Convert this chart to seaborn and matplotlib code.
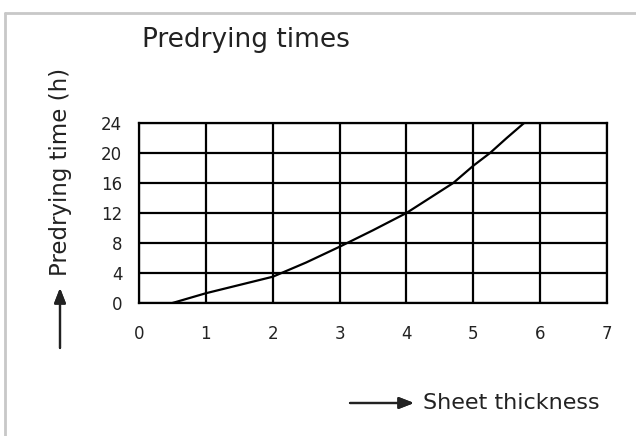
import matplotlib
matplotlib.use("Agg")
import matplotlib.pyplot as plt
from matplotlib.lines import Line2D
import seaborn as sns

# values
thickness = [0.5, 1.0, 1.5, 2.0, 2.5, 3.0, 3.5, 4.0, 4.35, 4.7, 5.0, 5.25, 5.5, 5.76]
hours = [0.0, 1.3, 2.4, 3.5, 5.4, 7.5, 9.7, 12.0, 14.0, 16.0, 18.3, 20.0, 22.0, 24.0]
x_ticks = [0, 1, 2, 3, 4, 5, 6, 7]
y_ticks = [0, 4, 8, 12, 16, 20, 24]

sns.set_style("white")
plt.rcParams['font.family'] = ['DejaVu Sans']

W, H = 636, 436
fig = plt.figure(figsize=(W / 100, H / 100), dpi=100)
ax = fig.add_axes([139 / W, 1 - 303 / H, (607 - 139) / W, (303 - 123) / H])

sns.lineplot(x=thickness, y=hours, ax=ax, color="black", linewidth=1.6)
for ln in ax.lines:
    ln.set_solid_joinstyle("round")

ax.set_xlim(0, 7)
ax.set_ylim(0, 24)
ax.set_xticks(x_ticks)
ax.set_yticks(y_ticks)
ax.grid(True, color="black", linewidth=1.6)
ax.set_axisbelow(True)
for s in ax.spines.values():
    s.set_visible(True)
    s.set_color("black")
    s.set_linewidth(1.6)
ax.tick_params(axis="x", length=0, pad=16, labelsize=12, colors="#222222")
ax.tick_params(axis="y", length=0, pad=12, labelsize=12, colors="#222222")
ax.set_xlabel("")
ax.set_ylabel("")

# title and axis captions with arrows, as in the reference
fig.text(142 / W, 1 - 40 / H, "Predrying times", fontsize=19, color="#222222",
         ha="left", va="center")
fig.text(60 / W, 1 - 172 / H, "Predrying time (h)", fontsize=16.5, color="#222222",
         rotation=90, ha="center", va="center")
fig.text(423 / W, 1 - 403 / H, "Sheet thickness", fontsize=16, color="#222222",
         ha="left", va="center")

arrow = dict(arrowstyle="-|>,head_length=0.9,head_width=0.35", color="#222222",
             linewidth=1.6, shrinkA=0, shrinkB=0)
fig.add_artist(plt.annotate("", xy=(60 / W, 1 - 288 / H), xytext=(60 / W, 1 - 348 / H),
                            xycoords="figure fraction", arrowprops=arrow))
fig.add_artist(plt.annotate("", xy=(414 / W, 1 - 403 / H), xytext=(350 / W, 1 - 403 / H),
                            xycoords="figure fraction", arrowprops=arrow))

# light grey frame on the top and left edges
fig.add_artist(Line2D([5 / W, 1], [1 - 13 / H, 1 - 13 / H], color="#c8c8c8", linewidth=2))
fig.add_artist(Line2D([5 / W, 5 / W], [0, 1 - 13 / H], color="#c8c8c8", linewidth=2))

fig.savefig("out.png", dpi=100)
